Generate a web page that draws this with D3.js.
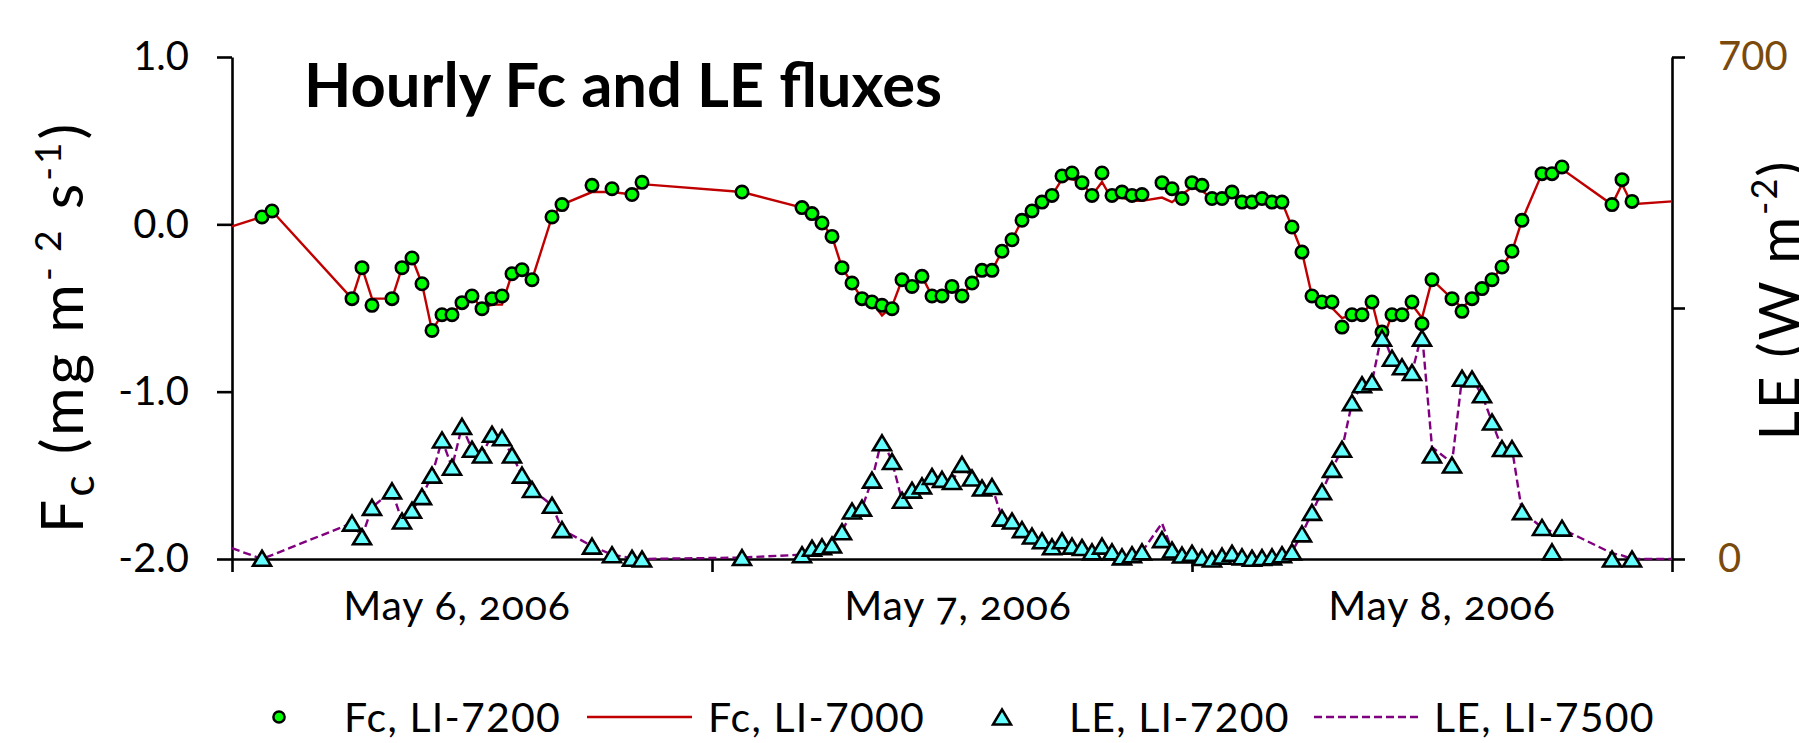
<!DOCTYPE html>
<html>
<head>
<meta charset="utf-8">
<script src="https://cdn.jsdelivr.net/npm/d3@7"></script>
<style>
  html, body { margin: 0; padding: 0; background: #fff; }
  svg { display: block; font-family: Lato, "Open Sans", sans-serif; }
</style>
</head>
<body>
<svg id="chart" width="1799" height="743"></svg>
<script>
// hours after May 6, 2006 00:00 -> value
const fcLi7200 = [
  [1.5, 0.044], [2, 0.08], [6, -0.444], [6.5, -0.259], [7, -0.484], [8, -0.444],
  [8.5, -0.259], [9, -0.201], [9.5, -0.355], [10, -0.634], [10.5, -0.54], [11, -0.54],
  [11.5, -0.468], [12, -0.428], [12.5, -0.504], [13, -0.444], [13.5, -0.428], [14, -0.295],
  [14.5, -0.271], [15, -0.331], [16, 0.044], [16.5, 0.118], [18, 0.233], [19, 0.213],
  [20, 0.178], [20.5, 0.251], [25.5, 0.193], [28.5, 0.10], [29, 0.064], [29.5, 0.008],
  [30, -0.072], [30.5, -0.259], [31, -0.351], [31.5, -0.444], [32, -0.464], [32.5, -0.484],
  [33, -0.504], [33.5, -0.331], [34, -0.371], [34.5, -0.311], [35, -0.428], [35.5, -0.428],
  [36, -0.371], [36.5, -0.428], [37, -0.351], [37.5, -0.275], [38, -0.275], [38.5, -0.161],
  [39, -0.092], [39.5, 0.024], [40, 0.08], [40.5, 0.133], [41, 0.173], [41.5, 0.289],
  [42, 0.307], [42.5, 0.249], [43, 0.173], [43.5, 0.307], [44, 0.173], [44.5, 0.193],
  [45, 0.173], [45.5, 0.178], [46.5, 0.249], [47, 0.213], [47.5, 0.154], [48, 0.249],
  [48.5, 0.233], [49, 0.154], [49.5, 0.154], [50, 0.193], [50.5, 0.133], [51, 0.133],
  [51.5, 0.154], [52, 0.133], [52.5, 0.133], [53, -0.016], [53.5, -0.166], [54, -0.428],
  [54.5, -0.464], [55, -0.464], [55.5, -0.614], [56, -0.54], [56.5, -0.54], [57, -0.464],
  [57.5, -0.644], [58, -0.54], [58.5, -0.54], [59, -0.464], [59.5, -0.594], [60, -0.331],
  [61, -0.444], [61.5, -0.52], [62, -0.444], [62.5, -0.384], [63, -0.331], [63.5, -0.255],
  [64, -0.161], [64.5, 0.024], [65.5, 0.303], [66, 0.303], [66.5, 0.343], [69, 0.118],
  [69.5, 0.267], [70, 0.137]
];

const fcLi7000 = [
  [0, -0.012], [1.5, 0.044], [2, 0.08], [6, -0.444], [6.5, -0.259], [7, -0.444], [8, -0.444],
  [8.5, -0.259], [9, -0.201], [9.5, -0.355], [10, -0.634], [10.5, -0.54], [11, -0.54],
  [11.5, -0.468], [12, -0.428], [12.5, -0.504], [13, -0.48], [13.5, -0.48], [14, -0.295],
  [14.5, -0.271], [15, -0.331], [16, 0.044], [16.5, 0.118], [18, 0.193], [19, 0.193],
  [20, 0.178], [20.5, 0.24], [25.5, 0.193], [28.5, 0.10], [29, 0.064], [29.5, 0.008],
  [30, -0.072], [30.5, -0.259], [31, -0.351], [31.5, -0.444], [32, -0.464], [32.5, -0.544],
  [33, -0.49], [33.5, -0.331], [34, -0.371], [34.5, -0.311], [35, -0.428], [35.5, -0.428],
  [36, -0.371], [36.5, -0.428], [37, -0.351], [37.5, -0.275], [38, -0.275], [38.5, -0.161],
  [39, -0.092], [39.5, 0.024], [40, 0.08], [40.5, 0.133], [41, 0.173], [41.5, 0.27],
  [42, 0.27], [42.5, 0.249], [43, 0.173], [43.5, 0.253], [44, 0.15], [44.5, 0.16],
  [45, 0.14], [45.5, 0.14], [46.5, 0.16], [47, 0.133], [47.5, 0.18], [48, 0.22],
  [48.5, 0.2], [49, 0.154], [49.5, 0.154], [50, 0.17], [50.5, 0.133], [51, 0.133],
  [51.5, 0.15], [52, 0.133], [52.5, 0.133], [53, -0.016], [53.5, -0.166], [54, -0.428],
  [54.5, -0.464], [55, -0.5], [55.5, -0.56], [56, -0.54], [56.5, -0.54], [57, -0.464],
  [57.5, -0.70], [58, -0.54], [58.5, -0.54], [59, -0.48], [59.5, -0.56], [60, -0.331],
  [61, -0.444], [61.5, -0.5], [62, -0.444], [62.5, -0.384], [63, -0.331], [63.5, -0.255],
  [64, -0.161], [64.5, 0.024], [65.5, 0.303], [66, 0.303], [66.5, 0.33], [69, 0.118],
  [69.5, 0.24], [70, 0.12], [72, 0.137]
];

const leLi7200 = [
  [1.5, 1], [6, 50], [6.5, 31], [7, 72], [8, 95], [8.5, 53], [9, 68], [9.5, 87],
  [10, 117], [10.5, 166], [11, 128], [11.5, 185], [12, 153], [12.5, 145], [13, 174],
  [13.5, 169], [14, 145], [14.5, 117], [15, 97], [16, 75], [16.5, 41], [18, 18], [19, 6],
  [20, 1], [20.5, 0], [25.5, 2], [28.5, 6], [29, 15], [29.5, 17], [30, 19.5], [30.5, 38],
  [31, 67], [31.5, 71], [32, 110], [32.5, 162], [33, 136], [33.5, 82], [34, 96],
  [34.5, 102], [35, 115], [35.5, 111], [36, 108], [36.5, 132], [37, 113], [37.5, 99],
  [38, 101], [38.5, 57], [39, 53], [39.5, 41], [40, 32], [40.5, 25.5], [41, 17],
  [41.5, 25.5], [42, 18], [42.5, 16], [43, 10], [43.5, 18], [44, 10], [44.5, 3], [45, 6],
  [45.5, 10], [46.5, 27], [47, 12.5], [47.5, 5.5], [48, 8], [48.5, 2], [49, 0], [49.5, 4],
  [50, 8], [50.5, 3], [51, 1], [51.5, 2], [52, 3], [52.5, 6], [53, 10], [53.5, 35],
  [54, 65], [54.5, 94], [55, 125], [55.5, 153], [56, 218], [56.5, 243], [57, 247],
  [57.5, 308], [58, 280], [58.5, 268], [59, 260], [59.5, 308], [60, 145], [61, 131],
  [61.5, 252], [62, 251], [62.5, 229], [63, 191], [63.5, 154], [64, 154], [64.5, 66],
  [65.5, 44], [66, 10], [66.5, 43], [69, 0], [70, 0]
];

const leLi7500 = [
  [0, 15], [1.5, 0], [6, 50], [6.5, 31], [7, 72], [8, 95], [8.5, 53], [9, 68], [9.5, 87],
  [10, 117], [10.5, 166], [11, 128], [11.5, 185], [12, 153], [12.5, 145], [13, 174],
  [13.5, 169], [14, 145], [14.5, 117], [15, 97], [16, 75], [16.5, 41], [18, 18], [19, 6],
  [20, 1], [20.5, 0], [25.5, 2], [28.5, 6], [29, 15], [29.5, 17], [30, 19.5], [30.5, 38],
  [31, 67], [31.5, 71], [32, 110], [32.5, 168], [33, 136], [33.5, 82], [34, 96],
  [34.5, 102], [35, 115], [35.5, 111], [36, 108], [36.5, 132], [37, 113], [37.5, 99],
  [38, 101], [38.5, 57], [39, 53], [39.5, 41], [40, 32], [40.5, 25.5], [41, 17],
  [41.5, 25.5], [42, 18], [42.5, 16], [43, 10], [43.5, 18], [44, 10], [44.5, 3], [45, 6],
  [45.5, 10], [46.5, 50], [47, 12.5], [47.5, 5.5], [48, 8], [48.5, 2], [49, 0], [49.5, 4],
  [50, 8], [50.5, 3], [51, 1], [51.5, 2], [52, 3], [52.5, 6], [53, 10], [53.5, 35],
  [54, 65], [54.5, 94], [55, 125], [55.5, 153], [56, 218], [56.5, 243], [57, 247],
  [57.5, 315], [58, 280], [58.5, 268], [59, 260], [59.5, 315], [60, 156], [61, 134],
  [61.5, 252], [62, 251], [62.5, 229], [63, 191], [63.5, 154], [64, 154], [64.5, 66],
  [65.5, 44], [66, 38], [66.5, 42], [69, 8], [69.5, 5], [70, 0], [72, 0]
];

const fcTicks = [-2, -1, 0, 1];
const leTicks = [0, 350, 700];
const leLabelled = [0, 700];
const dayLabels = ["May 6, 2006", "May 7, 2006", "May 8, 2006"];
const dayLabelNudge = [-15, 6, 10];   // Excel does not centre these exactly
const legendItems = ["Fc, LI-7200", "Fc, LI-7000", "LE, LI-7200", "LE, LI-7500"];

const t0 = new Date(2006, 4, 6);
const toDate = h => new Date(t0.getTime() + h * 3600e3);

const svg = d3.select("#chart");

const x = d3.scaleTime()
  .domain([t0, toDate(72)])
  .range([232, 1672]);
const yFc = d3.scaleLinear().domain([-2, 1]).range([559, 57]);
const yLE = d3.scaleLinear().domain([0, 700]).range([559, 57]);

const axisStroke = 2.6;

// bottom axis (day boundaries)
const gx = svg.append("g")
  .attr("transform", `translate(0,${yFc(-2)})`)
  .call(d3.axisBottom(x).ticks(d3.timeDay.every(1)).tickSize(13).tickSizeOuter(0).tickFormat(""));
gx.select(".domain").attr("stroke-width", axisStroke);
gx.selectAll(".tick line").attr("stroke-width", axisStroke);

// day labels in the middle of each day
svg.append("g").selectAll("text")
  .data(dayLabels)
  .enter().append("text")
  .attr("x", (d, i) => x(toDate(24 * i + 12)) + dayLabelNudge[i])
  .attr("y", 620)
  .attr("text-anchor", "middle")
  .attr("font-size", 41)
  .attr("letter-spacing", 0.8)
  .style("font-variant-numeric", "oldstyle-nums")
  .text(d => d);

// left axis
const gl = svg.append("g")
  .attr("transform", `translate(${x(t0)},0)`)
  .call(d3.axisLeft(yFc).tickValues(fcTicks).tickSize(15).tickSizeOuter(0).tickPadding(28)
    .tickFormat(d => d.toFixed(1)));
gl.select(".domain").attr("stroke-width", axisStroke);
gl.selectAll(".tick line").attr("stroke-width", axisStroke);
gl.selectAll(".tick text").attr("font-size", 40).attr("font-family", "Lato").attr("fill", "#000");

// right axis
const gr = svg.append("g")
  .attr("transform", `translate(${x(toDate(72))},0)`)
  .call(d3.axisRight(yLE).tickValues(leTicks).tickSize(13).tickSizeOuter(0).tickPadding(33)
    .tickFormat(d => leLabelled.includes(d) ? d : ""));
gr.select(".domain").attr("stroke-width", axisStroke);
gr.selectAll(".tick line").attr("stroke-width", axisStroke);
gr.selectAll(".tick text").attr("font-size", 40).attr("font-family", "Lato").attr("fill", "#7a4a0c");

// axis titles
const leftTitle = svg.append("text")
  .attr("transform", `translate(83,${(yFc(1) + yFc(-2)) / 2 + 19}) rotate(-90)`)
  .attr("text-anchor", "middle")
  .attr("font-size", 59)
  .attr("letter-spacing", 3);
leftTitle.append("tspan").text("F");
leftTitle.append("tspan").attr("font-size", 45).attr("baseline-shift", "-11").text("c");
leftTitle.append("tspan").text(" (mg m");
leftTitle.append("tspan").attr("font-size", 37).attr("baseline-shift", "super").text("- 2");
leftTitle.append("tspan").text(" s");
leftTitle.append("tspan").attr("font-size", 37).attr("baseline-shift", "super").text("-1");
leftTitle.append("tspan").text(")");

const rightTitle = svg.append("text")
  .attr("transform", `translate(1799,${(yLE(0) + yLE(700)) / 2 - 8}) rotate(-90)`)
  .attr("text-anchor", "middle")
  .attr("font-size", 57)
  .attr("letter-spacing", 2);
rightTitle.append("tspan").text("LE (W m");
rightTitle.append("tspan").attr("font-size", 36).attr("baseline-shift", "super").text("-2");
rightTitle.append("tspan").text(")");

// chart title
svg.append("text")
  .attr("x", 304)
  .attr("y", 107)
  .attr("font-size", 61.5)
  .attr("font-weight", "bold")
  .text("Hourly Fc and LE fluxes");

// Fc LI-7000 line
svg.append("path")
  .datum(fcLi7000)
  .attr("fill", "none")
  .attr("stroke", "#c00000")
  .attr("stroke-width", 2.4)
  .attr("d", d3.line().x(d => x(toDate(d[0]))).y(d => yFc(d[1])));

// Fc LI-7200 circles
const circleR = 6.2;
svg.append("g").selectAll("circle")
  .data(fcLi7200)
  .enter().append("circle")
  .attr("cx", d => x(toDate(d[0])))
  .attr("cy", d => yFc(d[1]))
  .attr("r", circleR)
  .attr("fill", "#00ff00")
  .attr("stroke", "#000")
  .attr("stroke-width", 2.6);

// LE LI-7500 dashed
svg.append("path")
  .datum(leLi7500)
  .attr("fill", "none")
  .attr("stroke", "#800080")
  .attr("stroke-width", 2.4)
  .attr("stroke-dasharray", "8,4")
  .attr("d", d3.line().x(d => x(toDate(d[0]))).y(d => yLE(d[1])));

// LE LI-7200 triangles, centred on their box like Excel markers
const triW = 18, triH = 15;
const triPath = `M0,${-triH / 2}L${triW / 2},${triH / 2}L${-triW / 2},${triH / 2}Z`;
svg.append("g").selectAll("path")
  .data(leLi7200)
  .enter().append("path")
  .attr("transform", d => `translate(${x(toDate(d[0]))},${yLE(d[1])})`)
  .attr("d", triPath)
  .attr("fill", "#66ffff")
  .attr("stroke", "#000")
  .attr("stroke-width", 2.6)
  .attr("stroke-linejoin", "miter");

// legend
const legY = 717;
const legend = svg.append("g").attr("font-size", 41).attr("letter-spacing", 1.2);
legend.append("circle")
  .attr("cx", 279).attr("cy", legY).attr("r", 5.6)
  .attr("fill", "#00ff00").attr("stroke", "#000").attr("stroke-width", 2.5);
legend.append("line")
  .attr("x1", 587).attr("x2", 692).attr("y1", legY).attr("y2", legY)
  .attr("stroke", "#c00000").attr("stroke-width", 2.4);
legend.append("path")
  .attr("transform", `translate(1002,${legY})`)
  .attr("d", triPath)
  .attr("fill", "#66ffff").attr("stroke", "#000").attr("stroke-width", 2.5);
legend.append("line")
  .attr("x1", 1314).attr("x2", 1420).attr("y1", legY).attr("y2", legY)
  .attr("stroke", "#800080").attr("stroke-width", 2.4).attr("stroke-dasharray", "8,4");

const legX = [344, 708, 1069, 1434];
legend.selectAll("text")
  .data(legendItems)
  .enter().append("text")
  .attr("x", (d, i) => legX[i])
  .attr("y", legY)
  .attr("dy", "0.36em")
  .text(d => d);
</script>
</body>
</html>
